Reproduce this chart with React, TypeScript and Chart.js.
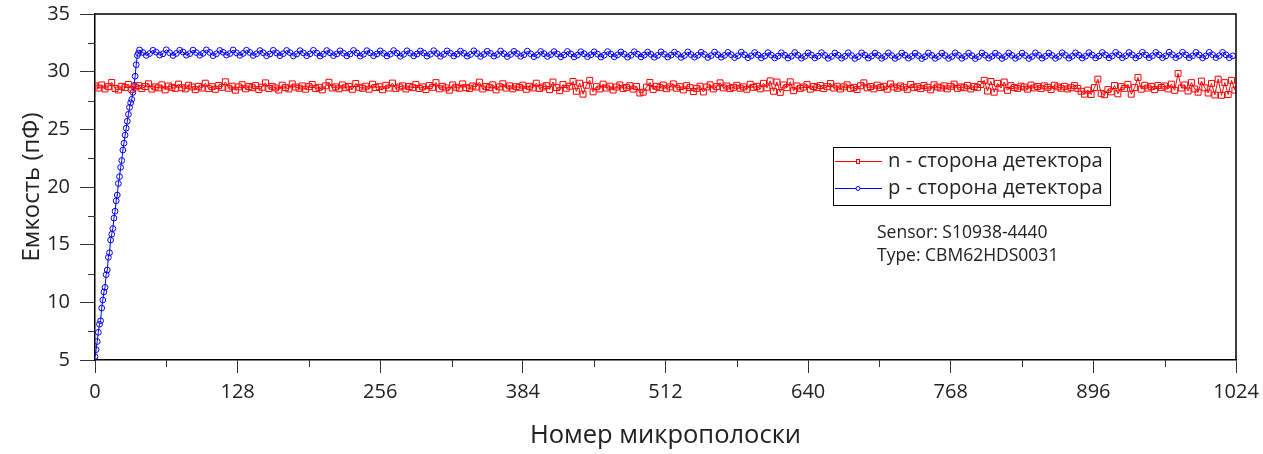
import React, { useEffect, useRef } from "react";
import { Chart, registerables } from "chart.js";

Chart.register(...registerables);

const FONT = "'Open Sans', 'Noto Sans', sans-serif";

// ---- data ----
const SERIES_N_LABEL = "n - сторона детектора";
const SERIES_P_LABEL = "p - сторона детектора";
const X_TITLE = "Номер микрополоски";
const Y_TITLE = "Емкость (пФ)";
const NOTE_LINES = ["Sensor: S10938-4440", "Type: CBM62HDS0031"];

const X_MIN = 0;
const X_MAX = 1024;
const X_STEP = 128;
const X_MINOR = [64, 192, 320, 448, 576, 704, 832, 960];
const Y_MIN = 5;
const Y_MAX = 35;
const Y_STEP = 5;
const Y_MINOR = [7.5, 12.5, 17.5, 22.5, 27.5, 32.5];

// n-side: strips 0, 3, 6, ... 1023
const N_STEP = 3;
const nValues = [
  28.76, 28.58, 28.85, 28.50, 28.70, 29.06, 28.54, 28.41, 28.73, 28.62, 28.89, 28.46, 28.67, 28.79, 28.53, 28.71,
  28.95, 28.49, 28.68, 28.59, 28.86, 28.42, 28.76, 28.64, 28.55, 28.92, 28.61, 28.50, 28.82, 28.67, 28.44, 28.73,
  28.58, 29.00, 28.53, 28.70, 28.47, 28.80, 28.64, 29.12, 28.56, 28.74, 28.39, 28.68, 28.87, 28.51, 28.71, 28.61,
  28.79, 28.45, 28.65, 29.03, 28.54, 28.73, 28.59, 28.41, 28.83, 28.62, 28.50, 28.94, 28.67, 28.56, 28.76, 28.48,
  28.70, 28.89, 28.53, 28.64, 28.42, 28.77, 29.08, 28.58, 28.68, 28.51, 28.85, 28.61, 28.73, 28.47, 28.97, 28.65,
  28.56, 28.74, 28.48, 28.91, 28.62, 28.70, 28.43, 28.82, 28.58, 29.01, 28.53, 28.67, 28.77, 28.50, 28.71, 28.61,
  28.88, 28.54, 28.68, 28.45, 28.80, 28.64, 29.05, 28.51, 28.73, 28.59, 28.39, 28.85, 28.65, 28.56, 28.94, 28.62,
  28.53, 28.76, 28.67, 29.09, 28.50, 28.71, 28.61, 28.86, 28.42, 28.68, 28.95, 28.58, 28.77, 28.51, 28.70, 28.64,
  28.83, 28.47, 28.73, 28.59, 29.00, 28.54, 28.67, 28.79, 28.45, 29.10, 28.62, 28.35, 28.88, 28.56, 28.74, 29.15,
  28.30, 29.00, 28.05, 28.82, 29.25, 28.25, 28.70, 28.50, 28.92, 28.58, 28.74, 28.41, 28.67, 28.85, 28.53, 28.64,
  28.78, 28.49, 28.71, 28.15, 28.22, 28.66, 29.06, 28.46, 28.73, 28.61, 28.84, 28.52, 28.68, 28.94, 28.56, 28.70,
  28.42, 28.79, 28.62, 28.28, 28.55, 28.74, 28.24, 28.67, 28.86, 28.50, 28.70, 29.03, 28.59, 28.76, 28.53, 28.64,
  28.82, 28.56, 28.68, 28.47, 28.91, 28.64, 28.73, 28.51, 28.99, 28.59, 29.20, 28.30, 29.10, 28.20, 28.85, 28.61,
  29.12, 28.35, 28.76, 28.55, 28.67, 28.88, 28.48, 28.71, 28.61, 28.80, 28.53, 28.70, 28.97, 28.58, 28.74, 28.50,
  28.68, 28.86, 28.55, 28.64, 28.45, 28.78, 29.03, 28.60, 28.71, 28.51, 28.83, 28.62, 28.73, 28.48, 28.94, 28.67,
  28.56, 28.76, 28.65, 28.47, 28.89, 28.61, 28.70, 28.53, 28.80, 28.64, 28.42, 28.86, 28.67, 28.58, 28.77, 28.51,
  28.73, 28.92, 28.55, 28.68, 28.61, 28.81, 28.50, 28.71, 28.64, 28.89, 29.25, 28.32, 29.15, 28.22, 28.99, 28.58,
  29.10, 28.38, 28.79, 28.62, 28.55, 28.74, 28.67, 28.48, 28.84, 28.59, 28.71, 28.53, 28.77, 28.64, 28.45, 28.82,
  28.68, 28.56, 28.73, 28.50, 28.61, 28.79, 28.55, 28.30, 28.05, 28.40, 28.02, 28.62, 29.35, 28.12, 28.00, 28.45,
  28.25, 28.80, 28.08, 28.70, 28.55, 28.90, 28.05, 28.62, 29.50, 28.48, 28.82, 28.58, 28.72, 28.44, 28.80, 28.63,
  28.76, 28.50, 28.92, 28.38, 29.85, 28.58, 28.85, 28.32, 29.05, 28.50, 28.22, 29.18, 28.60, 28.15, 28.98, 27.98,
  29.35, 27.95, 29.05, 28.02, 29.25, 28.40,
];

// p-side ramp: strips 0..39, one per strip
const pRampValues = [
  5.3, 5.9, 6.6, 7.4, 8.1, 8.4, 9.5, 10.2, 10.9, 11.3,
  12.4, 12.8, 13.9, 14.3, 15.4, 15.9, 16.4, 17.3, 17.9, 18.8,
  19.3, 20.3, 20.9, 21.7, 22.3, 23.2, 23.8, 24.5, 25.1, 25.7,
  26.3, 26.9, 27.3, 27.6, 28.2, 28.8, 29.6, 30.6, 31.4, 31.6,
];
// p-side plateau: strips 40, 43, 46, ... 1021
const P_FLAT_START = 40;
const P_FLAT_STEP = 3;
const pFlatValues = [
  31.88, 31.66, 31.41, 31.57, 31.85, 31.69, 31.44, 31.55, 31.90, 31.64, 31.40, 31.58, 31.86, 31.70, 31.43, 31.56,
  31.87, 31.65, 31.42, 31.59, 31.89, 31.67, 31.39, 31.55, 31.84, 31.68, 31.44, 31.57, 31.88, 31.63, 31.41, 31.58,
  31.86, 31.66, 31.40, 31.55, 31.83, 31.64, 31.38, 31.54, 31.85, 31.62, 31.39, 31.56, 31.84, 31.65, 31.37, 31.53,
  31.82, 31.63, 31.38, 31.55, 31.85, 31.61, 31.36, 31.52, 31.83, 31.64, 31.39, 31.54, 31.81, 31.60, 31.37, 31.53,
  31.84, 31.62, 31.35, 31.51, 31.82, 31.63, 31.38, 31.54, 31.80, 31.59, 31.36, 31.52, 31.83, 31.61, 31.34, 31.50,
  31.81, 31.60, 31.37, 31.53, 31.79, 31.62, 31.35, 31.51, 31.82, 31.58, 31.33, 31.50, 31.80, 31.60, 31.36, 31.52,
  31.78, 31.59, 31.34, 31.49, 31.81, 31.57, 31.32, 31.50, 31.77, 31.58, 31.35, 31.48, 31.79, 31.56, 31.31, 31.49,
  31.76, 31.57, 31.33, 31.47, 31.78, 31.55, 31.30, 31.46, 31.75, 31.56, 31.32, 31.48, 31.74, 31.53, 31.29, 31.45,
  31.75, 31.54, 31.28, 31.44, 31.73, 31.55, 31.30, 31.46, 31.72, 31.52, 31.27, 31.43, 31.74, 31.53, 31.29, 31.45,
  31.71, 31.51, 31.26, 31.42, 31.73, 31.52, 31.28, 31.44, 31.70, 31.50, 31.25, 31.41, 31.72, 31.51, 31.27, 31.43,
  31.69, 31.50, 31.24, 31.40, 31.71, 31.48, 31.26, 31.42, 31.68, 31.49, 31.23, 31.39, 31.70, 31.47, 31.25, 31.41,
  31.67, 31.47, 31.22, 31.38, 31.69, 31.46, 31.21, 31.37, 31.66, 31.45, 31.20, 31.36, 31.65, 31.44, 31.19, 31.35,
  31.64, 31.43, 31.18, 31.34, 31.66, 31.42, 31.17, 31.33, 31.63, 31.44, 31.19, 31.35, 31.65, 31.41, 31.16, 31.32,
  31.62, 31.42, 31.17, 31.33, 31.64, 31.40, 31.15, 31.31, 31.63, 31.43, 31.18, 31.34, 31.61, 31.41, 31.16, 31.32,
  31.63, 31.40, 31.15, 31.31, 31.62, 31.42, 31.17, 31.33, 31.60, 31.39, 31.14, 31.30, 31.62, 31.41, 31.16, 31.32,
  31.61, 31.40, 31.15, 31.31, 31.63, 31.41, 31.16, 31.32, 31.60, 31.39, 31.14, 31.30, 31.62, 31.42, 31.17, 31.33,
  31.60, 31.40, 31.15, 31.31, 31.62, 31.41, 31.16, 31.32, 31.61, 31.40, 31.15, 31.31, 31.63, 31.42, 31.17, 31.33,
  31.62, 31.41, 31.16, 31.32, 31.64, 31.42, 31.17, 31.33, 31.63, 31.43, 31.18, 31.34, 31.65, 31.44, 31.19, 31.35,
  31.66, 31.45, 31.20, 31.36, 31.67, 31.46, 31.21, 31.37, 31.66, 31.45, 31.20, 31.36, 31.68, 31.46, 31.21, 31.37,
  31.67, 31.46, 31.21, 31.37, 31.69, 31.47, 31.22, 31.38, 31.68, 31.46, 31.21, 31.37, 31.67, 31.45, 31.20, 31.36,
  31.68, 31.47, 31.22, 31.38, 31.67, 31.46, 31.21, 31.37,
];

const RED = "#ff0000";
const BLUE = "#0000ff";
const TEXT = "#222222";

const nPoints = nValues.map((v, i) => ({ x: i * N_STEP, y: v }));
const pPoints = [
  ...pRampValues.map((v, i) => ({ x: i, y: v })),
  ...pFlatValues.map((v, i) => ({ x: P_FLAT_START + i * P_FLAT_STEP, y: v })),
];

const decorPlugin = {
  id: "decor",
  afterDraw(chart: any) {
    const { ctx, chartArea: a, scales } = chart;
    const x = scales.x;
    const y = scales.y;
    ctx.save();
    // frame top & right
    ctx.strokeStyle = "#000";
    ctx.lineWidth = 1.5;
    ctx.beginPath();
    ctx.moveTo(a.left, a.top);
    ctx.lineTo(a.right, a.top);
    ctx.lineTo(a.right, a.bottom);
    ctx.stroke();
    // minor ticks
    ctx.lineWidth = 1;
    ctx.strokeStyle = "#333";
    ctx.beginPath();
    Y_MINOR.forEach((v) => {
      const py = Math.round(y.getPixelForValue(v)) + 0.5;
      ctx.moveTo(a.left - 7, py);
      ctx.lineTo(a.left, py);
    });
    X_MINOR.forEach((v) => {
      const px = Math.round(x.getPixelForValue(v)) + 0.5;
      ctx.moveTo(px, a.bottom);
      ctx.lineTo(px, a.bottom + 7);
    });
    ctx.stroke();

    // legend box
    const lx = a.left + 738;
    const ly = a.top + 133;
    const lw = 277;
    const lh = 58;
    ctx.fillStyle = "#fff";
    ctx.fillRect(lx, ly, lw, lh);
    ctx.strokeStyle = "#000";
    ctx.lineWidth = 1;
    ctx.strokeRect(lx + 0.5, ly + 0.5, lw, lh);
    const rows = [
      { label: chart.data.datasets[0].label, color: RED, style: "rect" },
      { label: chart.data.datasets[1].label, color: BLUE, style: "circle" },
    ];
    ctx.font = `20.3px ${FONT}`;
    ctx.textBaseline = "middle";
    ctx.textAlign = "left";
    rows.forEach((r, i) => {
      const cy = ly + 14 + i * 27;
      ctx.strokeStyle = r.color;
      ctx.lineWidth = 1;
      ctx.beginPath();
      ctx.moveTo(lx + 2, cy + 0.5);
      ctx.lineTo(lx + 49, cy + 0.5);
      ctx.stroke();
      ctx.fillStyle = "#fff";
      if (r.style === "rect") {
        ctx.fillRect(lx + 23, cy - 1.5, 4, 4);
        ctx.strokeRect(lx + 23.5, cy - 1.5, 3, 4);
      } else {
        ctx.beginPath();
        ctx.arc(lx + 25, cy + 0.5, 2, 0, Math.PI * 2);
        ctx.fill();
        ctx.stroke();
      }
      ctx.fillStyle = TEXT;
      ctx.fillText(r.label, lx + 55, cy);
    });

    // note
    ctx.font = `17.5px ${FONT}`;
    ctx.fillStyle = TEXT;
    NOTE_LINES.forEach((t, i) => {
      ctx.fillText(t, a.left + 782, a.top + 219 + i * 23);
    });
    ctx.restore();
  },
};

export default function App() {
  const ref = useRef<HTMLCanvasElement | null>(null);
  useEffect(() => {
    if (!ref.current) return;
    const chart = new Chart(ref.current, {
      type: "line",
      data: {
        datasets: [
          {
            label: SERIES_N_LABEL,
            data: nPoints,
            borderColor: RED,
            borderWidth: 1,
            pointStyle: "rect",
            pointRadius: 4.2,
            pointBorderColor: RED,
            pointBackgroundColor: "rgba(255,255,255,0)",
            pointBorderWidth: 1,
            tension: 0,
          },
          {
            label: SERIES_P_LABEL,
            data: pPoints,
            borderColor: BLUE,
            borderWidth: 1,
            pointStyle: "circle",
            pointRadius: 2.9,
            pointBorderColor: BLUE,
            pointBackgroundColor: "rgba(255,255,255,0)",
            pointBorderWidth: 1,
            tension: 0,
          },
        ],
      },
      options: {
        animation: false,
        responsive: false,
        events: [],
        layout: { padding: { left: 0, right: 27, top: 14, bottom: 0 } },
        plugins: {
          legend: { display: false },
          tooltip: { enabled: false },
        },
        scales: {
          x: {
            type: "linear",
            min: X_MIN,
            max: X_MAX,
            ticks: {
              stepSize: X_STEP,
              color: TEXT,
              font: { family: FONT, size: 20 },
              padding: 7,
              maxRotation: 0,
              callback: (v: any) => String(v),
            },
            grid: { drawOnChartArea: false, drawTicks: true, tickLength: 13, color: "#333", lineWidth: 1 },
            border: { display: true, color: "#000", width: 1.5 },
            title: { display: true, text: X_TITLE, color: TEXT, font: { family: FONT, size: 25.5 }, padding: { top: 0, bottom: 3 } },
            afterFit: (s: any) => {
              s.height = 94;
              s.paddingLeft = 0;
              s.paddingRight = 0;
            },
          },
          y: {
            type: "linear",
            min: Y_MIN,
            max: Y_MAX,
            ticks: { stepSize: Y_STEP, color: TEXT, font: { family: FONT, size: 20 }, padding: 10, callback: (v: any) => String(v) },
            grid: { drawOnChartArea: false, drawTicks: true, tickLength: 15, color: "#333", lineWidth: 1 },
            border: { display: true, color: "#000", width: 1.5 },
            title: { display: true, text: Y_TITLE, color: TEXT, font: { family: FONT, size: 24 }, padding: { top: 18, bottom: 0 } },
            afterFit: (s: any) => {
              s.width = 95;
              s.paddingTop = 0;
              s.paddingBottom = 0;
            },
          },
        },
      },
      plugins: [decorPlugin],
    });
    return () => chart.destroy();
  }, []);
  return (
    <div style={{ position: "fixed", left: 0, top: 0, width: 1263, height: 454, background: "#fff" }}>
      <canvas ref={ref} width={1263} height={454} style={{ display: "block" }} />
    </div>
  );
}
